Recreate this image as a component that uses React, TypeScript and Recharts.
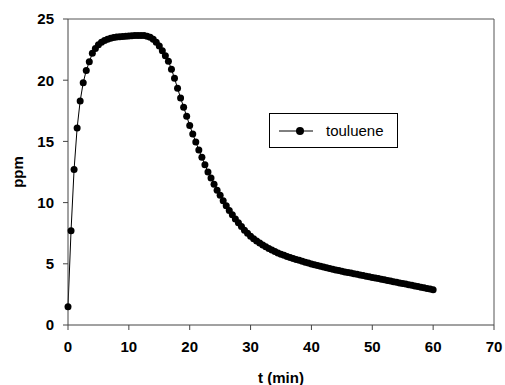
import React from 'react';
import { LineChart, Line, XAxis, YAxis, ReferenceLine } from 'recharts';

// sampling every 0.5 min
const times: number[] = [
  0, 0.5, 1, 1.5, 2, 2.5, 3, 3.5, 4, 4.5, 5, 5.5, 6, 6.5, 7, 7.5, 8, 8.5, 9, 9.5,
  10, 10.5, 11, 11.5, 12, 12.5, 13, 13.5, 14, 14.5, 15, 15.5, 16, 16.5, 17, 17.5, 18, 18.5, 19, 19.5,
  20, 20.5, 21, 21.5, 22, 22.5, 23, 23.5, 24, 24.5, 25, 25.5, 26, 26.5, 27, 27.5, 28, 28.5, 29, 29.5,
  30, 30.5, 31, 31.5, 32, 32.5, 33, 33.5, 34, 34.5, 35, 35.5, 36, 36.5, 37, 37.5, 38, 38.5, 39, 39.5,
  40, 40.5, 41, 41.5, 42, 42.5, 43, 43.5, 44, 44.5, 45, 45.5, 46, 46.5, 47, 47.5, 48, 48.5, 49, 49.5,
  50, 50.5, 51, 51.5, 52, 52.5, 53, 53.5, 54, 54.5, 55, 55.5, 56, 56.5, 57, 57.5, 58, 58.5, 59, 59.5,
  60,
];

const toluene: number[] = [
  1.5, 7.7, 12.7, 16.1, 18.3, 19.8, 20.8, 21.5, 22.2, 22.6, 22.9, 23.1, 23.25, 23.35, 23.42, 23.48, 23.52, 23.55, 23.58, 23.6,
  23.62, 23.64, 23.65, 23.66, 23.66, 23.65, 23.6, 23.5, 23.35, 23.1, 22.8, 22.4, 22.0, 21.55, 20.9, 20.15, 19.35, 18.55, 17.8, 17.05,
  16.3, 15.6, 14.95, 14.3, 13.7, 13.1, 12.5, 12.0, 11.5, 11.0, 10.6, 10.15, 9.75, 9.35, 9.0, 8.65, 8.35, 8.05, 7.75, 7.5,
  7.25, 7.05, 6.87, 6.7, 6.54, 6.39, 6.25, 6.12, 6.0, 5.89, 5.79, 5.69, 5.6, 5.51, 5.43, 5.35, 5.28, 5.2, 5.13, 5.06,
  4.99, 4.92, 4.86, 4.8, 4.74, 4.68, 4.62, 4.56, 4.5, 4.45, 4.4, 4.34, 4.29, 4.24, 4.19, 4.14, 4.09, 4.04, 3.99, 3.94,
  3.89, 3.84, 3.79, 3.74, 3.69, 3.64, 3.59, 3.54, 3.49, 3.44, 3.39, 3.34, 3.29, 3.24, 3.19, 3.14, 3.09, 3.04, 2.99, 2.94,
  2.88,
];

const xTicks = [0, 10, 20, 30, 40, 50, 60, 70];
const yTicks = [0, 5, 10, 15, 20, 25];
const seriesName = 'touluene';

const data = times.map((t, i) => ({ t, ppm: toluene[i] }));

const font = '"Liberation Sans", Arial, sans-serif';

const LegendBox = () => (
  <div
    style={{
      position: 'absolute',
      left: 269,
      top: 113,
      width: 127,
      height: 33,
      border: '1px solid #000',
      display: 'flex',
      alignItems: 'center',
      fontFamily: font,
      fontSize: 15,
      background: '#fff',
    }}
  >
    <svg width={48} height={12} style={{ marginLeft: 8 }}>
      <line x1={1} y1={6} x2={35} y2={6} stroke="#000" strokeWidth={1} />
      <circle cx={22} cy={6} r={4} fill="#000" />
    </svg>
    <span>{seriesName}</span>
  </div>
);

export default function App() {
  return (
    <div style={{ position: 'absolute', left: 0, top: 0, width: 505, height: 385, background: '#fff' }}>
      <LineChart width={505} height={385} data={data} margin={{ top: 19, right: 11, bottom: 0, left: 0 }}>
        <XAxis
          dataKey="t"
          type="number"
          domain={[0, 70]}
          ticks={xTicks}
          height={60}
          stroke="#444"
          tickSize={5}
          tickMargin={11}
          tick={{ fill: '#000', fontSize: 15, fontWeight: 'bold', fontFamily: font }}
          label={{ value: 't (min)', position: 'insideBottom', offset: 2, fill: '#000', fontSize: 15, fontWeight: 'bold', fontFamily: font }}
        />
        <YAxis
          domain={[0, 25]}
          ticks={yTicks}
          width={68}
          stroke="#444"
          tickSize={5}
          tickMargin={9}
          tick={{ fill: '#000', fontSize: 15, fontWeight: 'bold', fontFamily: font }}
          label={{ value: 'ppm', angle: -90, position: 'insideLeft', offset: 18, textAnchor: 'middle', fill: '#000', fontSize: 15, fontWeight: 'bold', fontFamily: font }}
        />
        <ReferenceLine y={25} stroke="#555" />
        <ReferenceLine x={70} stroke="#555" />
        <Line
          dataKey="ppm"
          name={seriesName}
          stroke="#000"
          strokeWidth={1}
          dot={{ r: 3.5, fill: '#000', stroke: '#000', strokeWidth: 0 }}
          isAnimationActive={false}
        />
      </LineChart>
      <LegendBox />
    </div>
  );
}
